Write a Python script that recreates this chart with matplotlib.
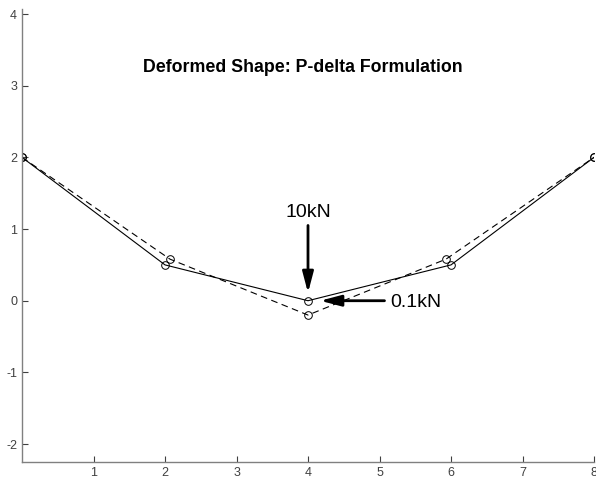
import matplotlib
matplotlib.use("Agg")
import matplotlib.pyplot as plt

plt.rcParams['font.family'] = ['Liberation Sans', 'DejaVu Sans']
plt.rcParams['axes.unicode_minus'] = False

x_orig = [0, 2, 4, 6, 8]
y_orig = [2, 0.5, 0, 0.5, 2]
x_def = [0, 2.07, 4, 5.93, 8]
y_def = [2, 0.58, -0.2, 0.58, 2]
xticks = [1, 2, 3, 4, 5, 6, 7, 8]
yticks = [-2, -1, 0, 1, 2, 3, 4]

fig = plt.figure(figsize=(5.96, 4.79), dpi=100)
ax = fig.add_axes([22/596, 17/479, 572/596, 453/479])

ax.plot(x_orig, y_orig, '-', color='black', lw=0.8, marker='o', ms=5.5,
        mfc='none', mec='black', mew=0.7)
ax.plot(x_def, y_def, '--', color='black', lw=0.8, marker='o', ms=5.5,
        mfc='none', mec='black', mew=0.7, dashes=(6, 4))

astyle = '-|>,head_length=1.25,head_width=0.33'
ax.annotate('', xy=(4, 0.11), xytext=(4, 1.05),
            arrowprops=dict(arrowstyle=astyle, color='black', lw=2.0,
                            mutation_scale=10, shrinkA=0, shrinkB=0))
ax.text(4, 1.23, '10kN', ha='center', va='center', fontsize=14)
ax.annotate('', xy=(4.17, 0), xytext=(5.07, 0),
            arrowprops=dict(arrowstyle=astyle, color='black', lw=2.0,
                            mutation_scale=10, shrinkA=0, shrinkB=0))
ax.text(5.15, -0.02, '0.1kN', ha='left', va='center', fontsize=14)

ax.text(3.93, 3.25, 'Deformed Shape: P-delta Formulation', ha='center',
        va='center', fontsize=12.8, fontweight='bold')

ax.set_xlim(0, 8)
ax.set_ylim(-2.25, 4.07)
ax.set_xticks(xticks)
ax.set_yticks(yticks)
ax.spines['top'].set_visible(False)
ax.spines['right'].set_visible(False)
for s in ['left', 'bottom']:
    ax.spines[s].set_color('#808080')
    ax.spines[s].set_linewidth(1.0)
ax.tick_params(direction='in', length=4, width=0.8, color='#404040',
               labelsize=9, labelcolor='#404040')

fig.savefig('out.png', dpi=100)
